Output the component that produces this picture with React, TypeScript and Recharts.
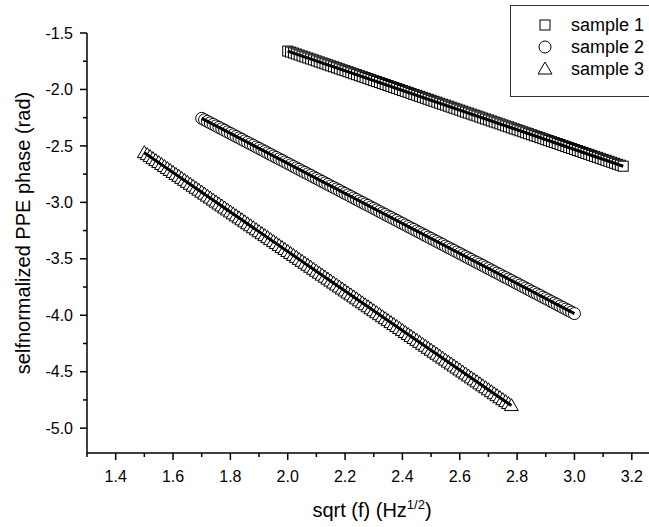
import { ScatterChart, Scatter, XAxis, YAxis, Legend, Label } from "recharts";

// sample 1 (squares)
const sample1X = [
  2.0, 2.01, 2.02, 2.03, 2.04, 2.05, 2.06, 2.07, 2.08, 2.09,
  2.1, 2.11, 2.12, 2.13, 2.14, 2.15, 2.16, 2.17, 2.18, 2.19,
  2.2, 2.21, 2.22, 2.23, 2.24, 2.25, 2.26, 2.27, 2.28, 2.29,
  2.3, 2.31, 2.32, 2.33, 2.34, 2.35, 2.36, 2.37, 2.38, 2.39,
  2.4, 2.41, 2.42, 2.43, 2.44, 2.45, 2.46, 2.47, 2.48, 2.49,
  2.5, 2.51, 2.52, 2.53, 2.54, 2.55, 2.56, 2.57, 2.58, 2.59,
  2.6, 2.61, 2.62, 2.63, 2.64, 2.65, 2.66, 2.67, 2.68, 2.69,
  2.7, 2.71, 2.72, 2.73, 2.74, 2.75, 2.76, 2.77, 2.78, 2.79,
  2.8, 2.81, 2.82, 2.83, 2.84, 2.85, 2.86, 2.87, 2.88, 2.89,
  2.9, 2.91, 2.92, 2.93, 2.94, 2.95, 2.96, 2.97, 2.98, 2.99,
  3.0, 3.01, 3.02, 3.03, 3.04, 3.05, 3.06, 3.07, 3.08, 3.09,
  3.1, 3.11, 3.12, 3.13, 3.14, 3.15, 3.16, 3.17,
];
const sample1Y = [
  -1.66, -1.669, -1.677, -1.686, -1.695, -1.704, -1.712, -1.721, -1.73, -1.738,
  -1.747, -1.756, -1.765, -1.773, -1.782, -1.791, -1.799, -1.808, -1.817, -1.826,
  -1.834, -1.843, -1.852, -1.861, -1.869, -1.878, -1.887, -1.895, -1.904, -1.913,
  -1.922, -1.93, -1.939, -1.948, -1.956, -1.965, -1.974, -1.983, -1.991, -2.0,
  -2.009, -2.017, -2.026, -2.035, -2.044, -2.052, -2.061, -2.07, -2.078, -2.087,
  -2.096, -2.105, -2.113, -2.122, -2.131, -2.139, -2.148, -2.157, -2.166, -2.174,
  -2.183, -2.192, -2.201, -2.209, -2.218, -2.227, -2.235, -2.244, -2.253, -2.262,
  -2.27, -2.279, -2.288, -2.296, -2.305, -2.314, -2.323, -2.331, -2.34, -2.349,
  -2.357, -2.366, -2.375, -2.384, -2.392, -2.401, -2.41, -2.418, -2.427, -2.436,
  -2.445, -2.453, -2.462, -2.471, -2.479, -2.488, -2.497, -2.506, -2.514, -2.523,
  -2.532, -2.541, -2.549, -2.558, -2.567, -2.575, -2.584, -2.593, -2.601, -2.61,
  -2.619, -2.628, -2.636, -2.645, -2.654, -2.663, -2.671, -2.68,
];

// sample 2 (circles)
const sample2X = [
  1.7, 1.71, 1.72, 1.73, 1.74, 1.75, 1.76, 1.77, 1.78, 1.79,
  1.8, 1.81, 1.82, 1.83, 1.84, 1.85, 1.86, 1.87, 1.88, 1.89,
  1.9, 1.91, 1.92, 1.93, 1.94, 1.95, 1.96, 1.97, 1.98, 1.99,
  2.0, 2.01, 2.02, 2.03, 2.04, 2.05, 2.06, 2.07, 2.08, 2.09,
  2.1, 2.11, 2.12, 2.13, 2.14, 2.15, 2.16, 2.17, 2.18, 2.19,
  2.2, 2.21, 2.22, 2.23, 2.24, 2.25, 2.26, 2.27, 2.28, 2.29,
  2.3, 2.31, 2.32, 2.33, 2.34, 2.35, 2.36, 2.37, 2.38, 2.39,
  2.4, 2.41, 2.42, 2.43, 2.44, 2.45, 2.46, 2.47, 2.48, 2.49,
  2.5, 2.51, 2.52, 2.53, 2.54, 2.55, 2.56, 2.57, 2.58, 2.59,
  2.6, 2.61, 2.62, 2.63, 2.64, 2.65, 2.66, 2.67, 2.68, 2.69,
  2.7, 2.71, 2.72, 2.73, 2.74, 2.75, 2.76, 2.77, 2.78, 2.79,
  2.8, 2.81, 2.82, 2.83, 2.84, 2.85, 2.86, 2.87, 2.88, 2.89,
  2.9, 2.91, 2.92, 2.93, 2.94, 2.95, 2.96, 2.97, 2.98, 2.99,
  3.0,
];
const sample2Y = [
  -2.256, -2.269, -2.283, -2.296, -2.309, -2.323, -2.336, -2.349, -2.362, -2.376,
  -2.389, -2.402, -2.416, -2.429, -2.442, -2.456, -2.469, -2.482, -2.495, -2.509,
  -2.522, -2.535, -2.549, -2.562, -2.575, -2.589, -2.602, -2.615, -2.628, -2.642,
  -2.655, -2.668, -2.682, -2.695, -2.708, -2.722, -2.735, -2.748, -2.761, -2.775,
  -2.788, -2.801, -2.815, -2.828, -2.841, -2.855, -2.868, -2.881, -2.894, -2.908,
  -2.921, -2.934, -2.948, -2.961, -2.974, -2.988, -3.001, -3.014, -3.027, -3.041,
  -3.054, -3.067, -3.081, -3.094, -3.107, -3.121, -3.134, -3.147, -3.16, -3.174,
  -3.187, -3.2, -3.214, -3.227, -3.24, -3.254, -3.267, -3.28, -3.293, -3.307,
  -3.32, -3.333, -3.347, -3.36, -3.373, -3.387, -3.4, -3.413, -3.426, -3.44,
  -3.453, -3.466, -3.48, -3.493, -3.506, -3.52, -3.533, -3.546, -3.559, -3.573,
  -3.586, -3.599, -3.613, -3.626, -3.639, -3.653, -3.666, -3.679, -3.692, -3.706,
  -3.719, -3.732, -3.746, -3.759, -3.772, -3.786, -3.799, -3.812, -3.825, -3.839,
  -3.852, -3.865, -3.879, -3.892, -3.905, -3.919, -3.932, -3.945, -3.958, -3.972,
  -3.985,
];

// sample 3 (triangles)
const sample3X = [
  1.5, 1.51, 1.52, 1.53, 1.54, 1.55, 1.56, 1.57, 1.58, 1.59,
  1.6, 1.61, 1.62, 1.63, 1.64, 1.65, 1.66, 1.67, 1.68, 1.69,
  1.7, 1.71, 1.72, 1.73, 1.74, 1.75, 1.76, 1.77, 1.78, 1.79,
  1.8, 1.81, 1.82, 1.83, 1.84, 1.85, 1.86, 1.87, 1.88, 1.89,
  1.9, 1.91, 1.92, 1.93, 1.94, 1.95, 1.96, 1.97, 1.98, 1.99,
  2.0, 2.01, 2.02, 2.03, 2.04, 2.05, 2.06, 2.07, 2.08, 2.09,
  2.1, 2.11, 2.12, 2.13, 2.14, 2.15, 2.16, 2.17, 2.18, 2.19,
  2.2, 2.21, 2.22, 2.23, 2.24, 2.25, 2.26, 2.27, 2.28, 2.29,
  2.3, 2.31, 2.32, 2.33, 2.34, 2.35, 2.36, 2.37, 2.38, 2.39,
  2.4, 2.41, 2.42, 2.43, 2.44, 2.45, 2.46, 2.47, 2.48, 2.49,
  2.5, 2.51, 2.52, 2.53, 2.54, 2.55, 2.56, 2.57, 2.58, 2.59,
  2.6, 2.61, 2.62, 2.63, 2.64, 2.65, 2.66, 2.67, 2.68, 2.69,
  2.7, 2.71, 2.72, 2.73, 2.74, 2.75, 2.76, 2.77, 2.78,
];
const sample3Y = [
  -2.56, -2.5775, -2.595, -2.6125, -2.63, -2.6475, -2.665, -2.6825, -2.7, -2.7175,
  -2.735, -2.7525, -2.77, -2.7875, -2.805, -2.8225, -2.84, -2.8575, -2.875, -2.8925,
  -2.91, -2.9275, -2.945, -2.9625, -2.98, -2.9975, -3.015, -3.0325, -3.05, -3.0675,
  -3.085, -3.1025, -3.12, -3.1375, -3.155, -3.1725, -3.19, -3.2075, -3.225, -3.2425,
  -3.26, -3.2775, -3.295, -3.3125, -3.33, -3.3475, -3.365, -3.3825, -3.4, -3.4175,
  -3.435, -3.4525, -3.47, -3.4875, -3.505, -3.5225, -3.54, -3.5575, -3.575, -3.5925,
  -3.61, -3.6275, -3.645, -3.6625, -3.68, -3.6975, -3.715, -3.7325, -3.75, -3.7675,
  -3.785, -3.8025, -3.82, -3.8375, -3.855, -3.8725, -3.89, -3.9075, -3.925, -3.9425,
  -3.96, -3.9775, -3.995, -4.0125, -4.03, -4.0475, -4.065, -4.0825, -4.1, -4.1175,
  -4.135, -4.1525, -4.17, -4.1875, -4.205, -4.2225, -4.24, -4.2575, -4.275, -4.2925,
  -4.31, -4.3275, -4.345, -4.3625, -4.38, -4.3975, -4.415, -4.4325, -4.45, -4.4675,
  -4.485, -4.5025, -4.52, -4.5375, -4.555, -4.5725, -4.59, -4.6075, -4.625, -4.6425,
  -4.66, -4.6775, -4.695, -4.7125, -4.73, -4.7475, -4.765, -4.7825, -4.8,
];

// linear fits (end points)
const fit1X = [2.0, 3.17];
const fit1Y = [-1.66, -2.68];
const fit2X = [1.7, 3.0];
const fit2Y = [-2.256, -3.985];
const fit3X = [1.5, 2.78];
const fit3Y = [-2.56, -4.8];

const seriesNames = ["sample 1", "sample 2", "sample 3"];
const xTicks = [
  1.3, 1.4, 1.5, 1.6, 1.7, 1.8, 1.9, 2.0, 2.1, 2.2, 2.3, 2.4, 2.5, 2.6, 2.7, 2.8, 2.9, 3.0,
  3.1, 3.2,
];
const yTicks = [
  -1.5, -1.75, -2.0, -2.25, -2.5, -2.75, -3.0, -3.25, -3.5, -3.75, -4.0, -4.25, -4.5,
  -4.75, -5.0,
];

const zip = (xs: number[], ys: number[]) => xs.map((x, i) => ({ x, y: ys[i] }));

const FONT = '"Liberation Sans", Arial, sans-serif';

const Square = (p: any) => (
  <rect x={p.cx - 5} y={p.cy - 5} width={10} height={10} fill="#fff" stroke="#000" strokeWidth={1} />
);
const Circle = (p: any) => <circle cx={p.cx} cy={p.cy} r={6} fill="#fff" stroke="#000" strokeWidth={1} />;
const Triangle = (p: any) => (
  <path
    d={`M${p.cx},${p.cy - 7}L${p.cx + 7},${p.cy + 5}L${p.cx - 7},${p.cy + 5}Z`}
    fill="#fff"
    stroke="#000"
    strokeWidth={1}
  />
);
const NoDot = () => <g />;

function XTick({ x, y, payload }: any) {
  const v = payload.value;
  const major = Math.round(v * 10) % 2 === 0;
  return (
    <g>
      <line x1={x} x2={x} y1={y} y2={y + (major ? 7 : 4)} stroke="#000" strokeWidth={1.5} />
      {major && (
        <text x={x} y={y + 29} textAnchor="middle" fontSize={16} fontFamily={FONT} fill="#000">
          {v.toFixed(1)}
        </text>
      )}
    </g>
  );
}

function YTick({ x, y, payload }: any) {
  const v = payload.value;
  const major = Math.round(v * 4) % 2 === 0;
  return (
    <g>
      <line x1={x - (major ? 7 : 4)} x2={x} y1={y} y2={y} stroke="#000" strokeWidth={1.5} />
      {major && (
        <text x={x - 14} y={y} dy="0.35em" textAnchor="end" fontSize={16} fontFamily={FONT} fill="#000">
          {v.toFixed(1)}
        </text>
      )}
    </g>
  );
}

function XTitle({ viewBox }: any) {
  const cx = viewBox.x + viewBox.width / 2 + 4;
  return (
    <text x={cx} y={viewBox.y + 64} textAnchor="middle" fontSize={20} fontFamily={FONT} fill="#000">
      sqrt (f) (Hz
      <tspan dy={-8} fontSize={13}>1/2</tspan>
      <tspan dy={8}>)</tspan>
    </text>
  );
}

function YTitle({ viewBox }: any) {
  const cx = 23;
  const cy = viewBox.y + viewBox.height / 2 - 10;
  return (
    <text
      x={cx}
      y={cy}
      transform={`rotate(-90 ${cx} ${cy})`}
      textAnchor="middle"
      dominantBaseline="central"
      fontSize={20}
      fontFamily={FONT}
      fill="#000"
    >
      selfnormalized PPE phase (rad)
    </text>
  );
}

const icons = [
  <rect x={2} y={2} width={10} height={10} fill="#fff" stroke="#000" />,
  <circle cx={7} cy={7} r={6} fill="#fff" stroke="#000" />,
  <path d="M7,0L14,12L0,12Z" fill="#fff" stroke="#000" />,
];

function LegendBox() {
  return (
    <div
      style={{
        width: 150,
        height: 92,
        boxSizing: "border-box",
        border: "1px solid #333",
        paddingTop: 8,
        fontFamily: FONT,
        fontSize: 18,
        color: "#000",
      }}
    >
      {seriesNames.map((name, i) => (
        <div key={name} style={{ height: 22, display: "flex", alignItems: "center" }}>
          <svg width={15} height={15} style={{ marginLeft: 27, overflow: "visible" }}>
            {icons[i]}
          </svg>
          <span style={{ marginLeft: 18, lineHeight: "22px" }}>{name}</span>
        </div>
      ))}
    </div>
  );
}

export default function App() {
  return (
    <div
      style={{
        position: "absolute",
        left: 0,
        top: 0,
        width: 649,
        height: 527,
        overflow: "hidden",
        background: "#fff",
      }}
    >
      <ScatterChart width={649} height={527} margin={{ top: 33, right: 0, bottom: 0, left: 0 }}>
        <XAxis
          dataKey="x"
          type="number"
          domain={[1.3, 3.26]}
          ticks={xTicks}
          interval={0}
          tickSize={0}
          tickMargin={0}
          tick={<XTick />}
          height={74}
          allowDataOverflow
          axisLine={{ stroke: "#000", strokeWidth: 1.5 }}
        >
          <Label content={<XTitle />} />
        </XAxis>
        <YAxis
          dataKey="y"
          type="number"
          domain={[-5.22, -1.5]}
          ticks={yTicks}
          interval={0}
          tickSize={0}
          tickMargin={0}
          tick={<YTick />}
          width={87}
          allowDataOverflow
          axisLine={{ stroke: "#000", strokeWidth: 1.5 }}
        >
          <Label content={<YTitle />} />
        </YAxis>
        <Legend
          content={<LegendBox />}
          layout="vertical"
          align="center"
          verticalAlign="middle"
          wrapperStyle={{ top: 5, left: 510, width: 150, height: 92 }}
        />
        <Scatter name={seriesNames[0]} data={zip(sample1X, sample1Y)} shape={Square} isAnimationActive={false} />
        <Scatter name={seriesNames[1]} data={zip(sample2X, sample2Y)} shape={Circle} isAnimationActive={false} />
        <Scatter name={seriesNames[2]} data={zip(sample3X, sample3Y)} shape={Triangle} isAnimationActive={false} />
        <Scatter data={zip(fit1X, fit1Y)} shape={NoDot} line={{ stroke: "#000", strokeWidth: 3 }} legendType="none" isAnimationActive={false} />
        <Scatter data={zip(fit2X, fit2Y)} shape={NoDot} line={{ stroke: "#000", strokeWidth: 3 }} legendType="none" isAnimationActive={false} />
        <Scatter data={zip(fit3X, fit3Y)} shape={NoDot} line={{ stroke: "#000", strokeWidth: 3 }} legendType="none" isAnimationActive={false} />
      </ScatterChart>
    </div>
  );
}
